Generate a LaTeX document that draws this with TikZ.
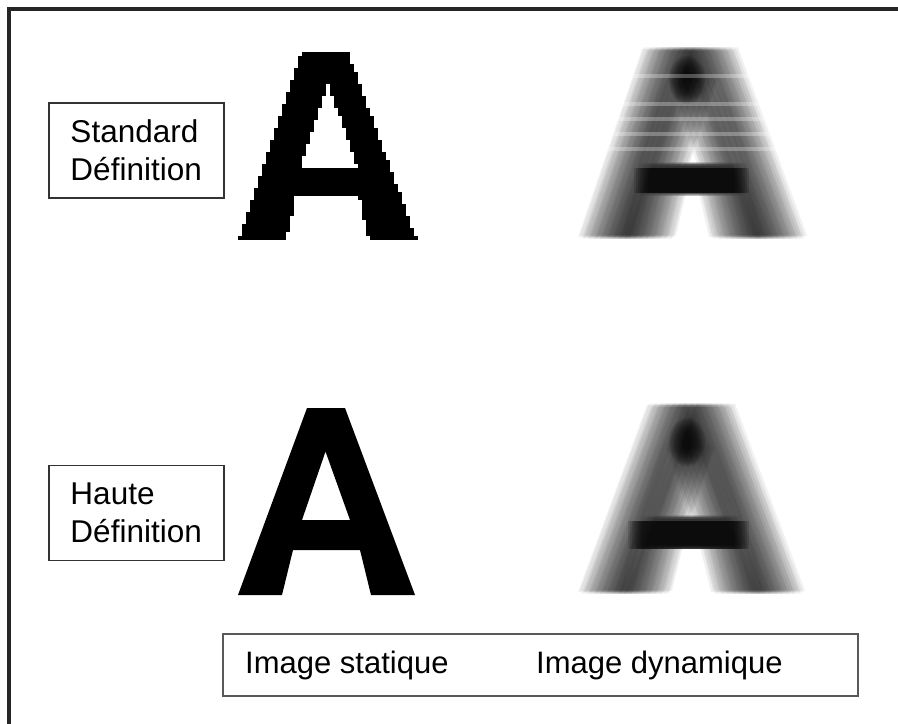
\documentclass[tikz,border=0pt]{standalone}
\usepackage{fontspec}
\setmainfont{Liberation Sans}
\tikzset{
  lbl/.style={draw=black!80, line width=1.2bp, minimum width=175bp, minimum height=95bp,
    inner xsep=21.5bp, inner ysep=0bp, text width=132bp, align=left,
    font=\fontsize{31.5bp}{38bp}\selectfont},
  legbox/.style={draw=black!65, line width=1.6bp, minimum width=635bp, minimum height=62bp, inner sep=0bp},
  txt/.style={font=\fontsize{31bp}{36bp}\selectfont, anchor=base west, inner sep=0bp},
  frame/.style={line width=3.6bp, draw=black!85},
  glyph/.style={fill=black, even odd rule},
  blurcopy/.style={fill=black, fill opacity=0.055, even odd rule},
  core/.style={fill=black, fill opacity=0.14},
  stripe/.style={draw=white, line width=3.5bp, opacity=0.28},
}
\def\pathHD{(0,0) -- (69,187) -- (107,187) -- (177,0) -- (133,0) -- (122,45) -- (55,45) -- (44,0) -- cycle (87.5,143.5) -- (112,75) -- (64,75) -- cycle}
\def\pathSD{(0,0) -- (64,188) -- (110,188) -- (179,0) -- (131,0) -- (121,43) -- (58,43) -- (48,0) -- cycle (90,157) -- (119,73) -- (62,73) -- cycle}
\begin{document}
\begin{tikzpicture}[x=1bp, y=-1bp]
\useasboundingbox (0,0) rectangle (898,724);
\clip (0,0) rectangle (898,724);
\fill[white] (0,0) rectangle (898,724);
% outer frame (only top and left visible)
\draw[frame] (9,740) -- (9,9) -- (910,9);

% static letter, standard definition: slightly pixelated
\begin{scope}[shift={(238,240)}, yscale=-1]
  \foreach \i in {0,...,46} {
    \pgfmathsetmacro\ya{\i*4-0.3}
    \pgfmathsetmacro\yb{(\i+1)*4+0.3}
    \pgfmathsetmacro\ym{(\i+0.5)*4}
    \pgfmathsetmacro\oL{round(64*\ym/188/4)*4}
    \pgfmathsetmacro\oR{round((179-69*\ym/188)/4)*4}
    \pgfmathsetmacro\iL{\ym<43 ? round((48+10*\ym/43)/4)*4 : (\ym<73 ? -1 : (\ym<157 ? round((62+28*(\ym-73)/84)/4)*4 : -1))}
    \pgfmathsetmacro\iR{\ym<43 ? round((131-10*\ym/43)/4)*4 : (\ym<73 ? -1 : (\ym<157 ? round((119-29*(\ym-73)/84)/4)*4 : -1))}
    \ifdim\iL pt<0pt
      \fill[black] (\oL-0.3,\ya) rectangle (\oR+0.3,\yb);
    \else
      \fill[black] (\oL-0.3,\ya) rectangle (\iL+0.3,\yb);
      \fill[black] (\iR-0.3,\ya) rectangle (\oR+0.3,\yb);
    \fi
  }
\end{scope}
% static letter, high definition
\begin{scope}[shift={(238,595)}, yscale=-1]
  \fill[glyph] \pathHD;
\end{scope}

% dynamic (motion blurred) letter, standard definition
\begin{scope}[shift={(603,237)}, yscale=-1]
  \foreach \d [count=\k] in {-25,-23,...,25} {
    \pgfmathsetmacro\dy{(mod(\k,3)-1)*1.5}
    \fill[blurcopy, shift={(\d,\dy)}] \pathSD;
  }
\end{scope}
\foreach \w in {0,2,...,14} {
  \fill[core] (634+\w,168) rectangle (749-\w,193);
  \fill[core] (687,80) ellipse ({18-\w} and {24-\w});
}
\foreach \yy in {76,104,119,134,149} {
  \draw[stripe] (600,\yy) -- (785,\yy);
}
% dynamic letter, high definition
\begin{scope}[shift={(603,592)}, yscale=-1]
  \foreach \d [count=\k] in {-25,-23,...,25} {
    \pgfmathsetmacro\dy{(mod(\k,3)-1)*1.5}
    \fill[blurcopy, shift={(\d,\dy)}] \pathHD;
  }
\end{scope}
\foreach \w in {0,2,...,14} {
  \fill[core] (628+\w,521) rectangle (749-\w,549);
  \fill[core] (687,442) ellipse ({18-\w} and {24-\w});
}

% labels
\node[lbl] (sd) at (136.5,150.5) {Standard\\Définition};
\node[lbl] (hd) at (136.5,513) {Haute\\Définition};

% legend box
\node[legbox] (leg) at (540.5,665) {};
\node[txt] (st) at (245,673) {Image statique};
\node[txt] (dy) at (536,673) {Image dynamique};
\end{tikzpicture}
\end{document}
